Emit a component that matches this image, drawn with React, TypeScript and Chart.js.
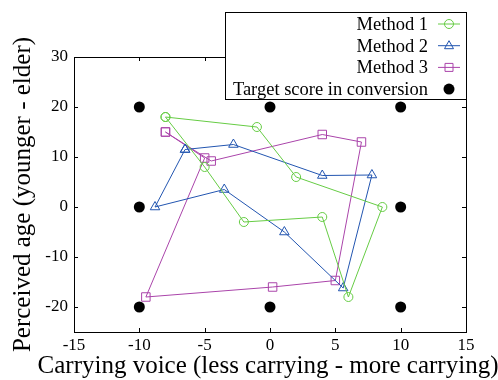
import React, { useEffect, useRef } from 'react';
import { Chart, registerables } from 'chart.js';
Chart.register(...registerables);

const method1X = [-8, -1, 2, 8.6, 6, 4, -2, -5];
const method1Y = [18, 16, 6, 0, -18, -2, -3, 8];
const method2X = [-6.5, -2.8, 4, 7.8, 5.6, 1.1, -3.5, -8.8];
const method2Y = [11.5, 12.5, 6.3, 6.4, -16.2, -5, 3.5, 0];
const method3X = [-8, -4.5, 4, 7, 5, 0.2, -9.5, -5];
const method3Y = [15, 9.2, 14.5, 13, -14.7, -16, -18, 9.8];
const targetX = [-10, 0, 10, -10, 10, -10, 0, 10];
const targetY = [20, 20, 20, 0, 0, -20, -20, -20];

const xTicks = [-15, -10, -5, 0, 5, 10, 15];
const yTicks = [-20, -10, 0, 10, 20, 30];

const seriesNames = ['Method 1', 'Method 2', 'Method 3', 'Target score in conversion'];
const xTitle = 'Carrying voice (less carrying - more carrying)';
const yTitle = 'Perceived age (younger - elder)';

const GREEN = '#66cc44';
const BLUE = '#2255b0';
const PURPLE = '#aa44aa';
const FONT = "'Liberation Serif', 'Times New Roman', serif";

function closed(xs: number[], ys: number[]) {
  const pts = xs.map((x, i) => ({ x, y: ys[i] }));
  return [...pts, pts[0]];
}

const framePlugin = {
  id: 'frame',
  afterDatasetsDraw(chart: any) {
    const { ctx, chartArea: a, scales } = chart;
    ctx.save();
    ctx.strokeStyle = '#000';
    ctx.lineWidth = 1;
    ctx.strokeRect(Math.round(a.left) + 0.5, Math.round(a.top) + 0.5, Math.round(a.right - a.left), Math.round(a.bottom - a.top));
    const tl = 4;
    ctx.beginPath();
    xTicks.forEach((v) => {
      const px = Math.round(scales.x.getPixelForValue(v)) + 0.5;
      ctx.moveTo(px, a.bottom);
      ctx.lineTo(px, a.bottom - tl);
      ctx.moveTo(px, a.top);
      ctx.lineTo(px, a.top + tl);
    });
    yTicks.forEach((v) => {
      const py = Math.round(scales.y.getPixelForValue(v)) + 0.5;
      ctx.moveTo(a.left, py);
      ctx.lineTo(a.left + tl, py);
      ctx.moveTo(a.right, py);
      ctx.lineTo(a.right - tl, py);
    });
    ctx.stroke();
    // x-axis title (drawn without width compression)
    ctx.fillStyle = '#000';
    ctx.font = `25px ${FONT}`;
    ctx.textAlign = 'center';
    ctx.textBaseline = 'middle';
    ctx.fillText(xTitle, 268, 366);
    ctx.restore();
  },
};

const legendPlugin = {
  id: 'customLegend',
  afterDraw(chart: any) {
    const { ctx } = chart;
    ctx.save();
    const bx = 225.5, by = 12.5, bw = 241, bh = 87;
    ctx.fillStyle = '#fff';
    ctx.fillRect(bx, by, bw, bh);
    ctx.strokeStyle = '#000';
    ctx.lineWidth = 1;
    ctx.strokeRect(bx, by, bw, bh);
    ctx.font = `18.5px ${FONT}`;
    ctx.textAlign = 'right';
    ctx.textBaseline = 'middle';
    const colors = [GREEN, BLUE, PURPLE, '#000'];
    const styles = ['circle', 'triangle', 'rect', 'dot'];
    seriesNames.forEach((name, i) => {
      const y = 24 + i * 21.7;
      ctx.fillStyle = '#000';
      ctx.fillText(name, 428, y + 1);
      const c = colors[i];
      if (styles[i] === 'dot') {
        ctx.beginPath();
        ctx.arc(449, y, 5.5, 0, Math.PI * 2);
        ctx.fillStyle = '#000';
        ctx.fill();
      } else {
        ctx.strokeStyle = c;
        ctx.lineWidth = 1;
        ctx.beginPath();
        ctx.moveTo(438, y);
        ctx.lineTo(460, y);
        ctx.stroke();
        ctx.beginPath();
        if (styles[i] === 'circle') {
          ctx.arc(449, y, 4.5, 0, Math.PI * 2);
        } else if (styles[i] === 'triangle') {
          ctx.moveTo(449, y - 5);
          ctx.lineTo(453.5, y + 3);
          ctx.lineTo(444.5, y + 3);
          ctx.closePath();
        } else {
          ctx.rect(445, y - 4, 8, 8);
        }
        ctx.stroke();
      }
    });
    ctx.restore();
  },
};

export default function App() {
  const ref = useRef<HTMLCanvasElement>(null);
  useEffect(() => {
    if (!ref.current) return;
    const mk = (label: string, xs: number[], ys: number[], color: string, style: string, r: number) => ({
      label,
      data: closed(xs, ys),
      showLine: true,
      borderColor: color,
      backgroundColor: 'rgba(0,0,0,0)',
      borderWidth: 1,
      pointStyle: style,
      pointRadius: r,
      pointBorderColor: color,
      pointBackgroundColor: 'rgba(0,0,0,0)',
      pointBorderWidth: 1,
    });
    const chart = new Chart(ref.current, {
      type: 'scatter',
      data: {
        datasets: [
          {
            label: seriesNames[3],
            data: targetX.map((x, i) => ({ x, y: targetY[i] })),
            showLine: false,
            pointStyle: 'circle',
            pointRadius: 5.5,
            pointBackgroundColor: '#000',
            pointBorderColor: '#000',
            pointBorderWidth: 0,
          } as any,
          mk(seriesNames[0], method1X, method1Y, GREEN, 'circle', 4.5),
          mk(seriesNames[1], method2X, method2Y, BLUE, 'triangle', 5.5),
          mk(seriesNames[2], method3X, method3Y, PURPLE, 'rect', 6),
        ],
      },
      options: {
        animation: false,
        responsive: false,
        layout: { padding: { top: 57, right: 32, left: 0, bottom: 0 } },
        plugins: { legend: { display: false }, tooltip: { enabled: false } },
        scales: {
          x: {
            type: 'linear',
            min: -15,
            max: 15,
            afterBuildTicks: (s: any) => { s.ticks = xTicks.map((v) => ({ value: v })); },
            afterFit: (s: any) => { s.height = 48; },
            grid: { display: false, drawTicks: false },
            border: { display: false },
            ticks: { color: '#000', font: { family: FONT, size: 17 }, padding: 3, maxRotation: 0 },
            title: { display: false, text: xTitle },
          },
          y: {
            type: 'linear',
            min: -25,
            max: 30,
            afterBuildTicks: (s: any) => { s.ticks = yTicks.map((v) => ({ value: v })); },
            afterFit: (s: any) => { s.width = 74; },
            grid: { display: false, drawTicks: false },
            border: { display: false },
            ticks: { color: '#000', font: { family: FONT, size: 17 }, padding: 6 },
            title: { display: true, text: yTitle, color: '#000', font: { family: FONT, size: 25 }, padding: { top: 8, bottom: 0 } },
          },
        },
      },
      plugins: [framePlugin, legendPlugin],
    });
    return () => chart.destroy();
  }, []);
  return (
    <div style={{ position: 'absolute', left: 0, top: 0, width: 498, height: 380, background: '#fff' }}>
      <canvas ref={ref} width={498} height={380} />
    </div>
  );
}
